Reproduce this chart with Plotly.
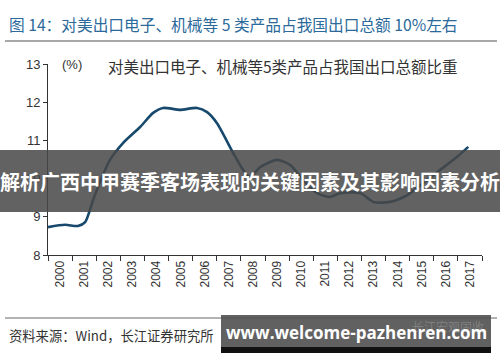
import plotly.graph_objects as go

# ---- data ----
period = [1999.5, 2000.21, 2000.74, 2001.04, 2001.37, 2001.74, 2002.07, 2002.61, 2003.32,
          2003.86, 2004.27, 2004.98, 2005.68, 2006.10, 2006.51, 2007.18, 2007.59, 2007.88,
          2008.30, 2009.00, 2009.54, 2010.08, 2010.66, 2011.20, 2011.62, 2012.45, 2012.99,
          2013.69, 2014.40, 2015.06, 2015.77, 2016.47, 2016.93]
share = [8.73, 8.79, 8.76, 8.86, 9.44, 10.04, 10.49, 10.93, 11.35,
         11.72, 11.85, 11.80, 11.85, 11.74, 11.45, 10.67, 10.23, 10.04,
         10.30, 10.49, 10.36, 9.96, 9.62, 9.52, 9.62, 9.62, 9.39,
         9.39, 9.57, 9.88, 10.23, 10.57, 10.83]
year_ticks = list(range(2000, 2018))
year_labels = [str(y) for y in year_ticks]
y_ticks = [8, 9, 10, 11, 12, 13]

fig_title = "图 14：对美出口电子、机械等 5 类产品占我国出口总额 10%左右"
series_name = "对美出口电子、机械等5类产品占我国出口总额比重"
source_text = "资料来源：Wind，长江证券研究所"
overlay_text = "解析广西中甲赛季客场表现的关键因素及其影响因素分析"
url_text = "www.welcome-pazhenren.com"

W, H = 500, 362
L, R, T, B = 48, 18, 64, 107
PW, PH = W - L - R, H - T - B


def px(x):
    return (x - L) / PW


def py(y):
    return (H - B - y) / PH


FONT = "Liberation Sans, Arial, Noto Sans CJK SC, sans-serif"
CJK = "Noto Sans CJK SC, Liberation Sans, sans-serif"

fig = go.Figure()
fig.add_trace(go.Scatter(
    x=period, y=share, mode="lines", name=series_name,
    line=dict(color="#17496d", width=2.6, shape="spline", smoothing=0.7),
    showlegend=False, hoverinfo="x+y"))

fig.update_layout(
    width=W, height=H,
    margin=dict(l=L, r=R, t=T, b=B),
    paper_bgcolor="white", plot_bgcolor="white",
    font=dict(family=FONT, color="#333333"),
    xaxis=dict(range=[1999.5, 2017.5], tickvals=year_ticks, ticktext=year_labels,
               tickangle=-90, ticks="", showgrid=False, zeroline=False,
               showline=True, linecolor="#333333", linewidth=1,
               tickfont=dict(size=12, color="#333333"),
               minor=dict(ticks="outside", tick0=1999.5, dtick=1, ticklen=5,
                          tickcolor="#333333", showgrid=False)),
    yaxis=dict(range=[8, 13], tickvals=y_ticks, ticks="outside", ticklen=4,
               tickcolor="#333333", showgrid=False, zeroline=False,
               showline=True, linecolor="#333333", linewidth=1,
               tickfont=dict(size=13, color="#333333")),
)

shapes = []
shapes.append(dict(type="line", xref="paper", yref="paper", x0=px(5), x1=px(497),
                   y0=py(41), y1=py(41), line=dict(color="#a8a8a8", width=2), layer="above"))
shapes.append(dict(type="line", xref="paper", yref="paper", x0=px(5), x1=px(497),
                   y0=py(318), y1=py(318), line=dict(color="#9a9a9a", width=1.5), layer="above"))
shapes.append(dict(type="rect", xref="paper", yref="paper", x0=px(0), x1=px(500),
                   y0=py(212), y1=py(150), fillcolor="rgba(72,72,72,0.86)",
                   line=dict(width=0), layer="above"))
shapes.append(dict(type="rect", xref="paper", yref="paper", x0=px(221), x1=px(491),
                   y0=py(347), y1=py(315), fillcolor="rgba(80,80,80,0.9)",
                   line=dict(width=0), layer="above"))
shapes.append(dict(type="rect", xref="paper", yref="paper", x0=px(221), x1=px(491),
                   y0=py(353), y1=py(347), fillcolor="#111111",
                   line=dict(width=0), layer="above"))
fig.update_layout(shapes=shapes)

ann = []
ann.append(dict(text=fig_title, x=px(7), y=py(25), xanchor="left", yanchor="middle",
                font=dict(family=CJK, size=15.7, color="#2b6a9b")))
ann.append(dict(text="(%)", x=px(60), y=py(64), xanchor="left", yanchor="middle",
                font=dict(family=FONT, size=13, color="#333333")))
ann.append(dict(text=series_name, x=px(106), y=py(66), xanchor="left", yanchor="middle",
                font=dict(family=CJK, size=15.5, color="#333333")))
ann.append(dict(text=source_text, x=px(7), y=py(335), xanchor="left", yanchor="middle",
                font=dict(family=CJK, size=13.3, color="#333333")))
ann.append(dict(text="长江宏观固收", x=px(486), y=py(326), xanchor="right", yanchor="middle",
                font=dict(family=CJK, size=12, color="rgba(150,150,150,0.6)")))
ann.append(dict(text="<b>" + overlay_text + "</b>", x=px(250), y=py(181), xanchor="center",
                yanchor="middle", font=dict(family=CJK, size=20, color="white")))
ann.append(dict(text="<b>" + url_text + "</b>", x=px(356), y=py(332), xanchor="center",
                yanchor="middle", font=dict(family="Open Sans, DejaVu Sans, sans-serif",
                                            size=17, color="white")))
for a in ann:
    a.update(xref="paper", yref="paper", showarrow=False)
fig.update_layout(annotations=ann)

fig.write_html("out.html", config={"displayModeBar": False},
               post_script="document.body.style.margin='0';document.body.style.overflow='hidden';")
